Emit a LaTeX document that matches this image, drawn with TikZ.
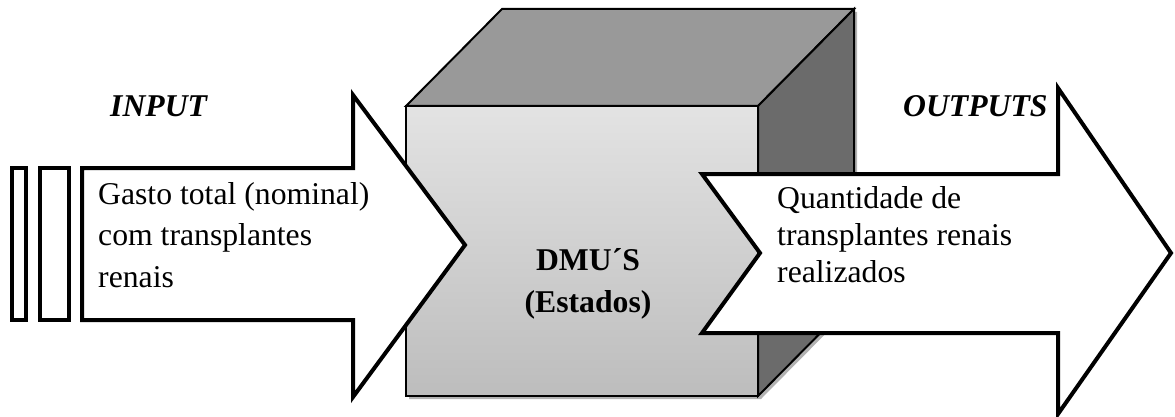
\documentclass[tikz,border=0pt]{standalone}
\usepackage{fontspec}
\setmainfont{Liberation Serif}
\usetikzlibrary{calc}

\tikzset{
	bigarrow/.style={draw=black, line width=4pt, fill=white, line join=miter},
	cubeface/.style={draw=black, line width=2pt, line join=miter},
	boxtext/.style={inner sep=0pt, align=left, anchor=base west},
}

\begin{document}
\begin{tikzpicture}[x=1pt, y=-1pt]
			%%%%% START %%%%%
			\useasboundingbox (0, 0) rectangle (1175, 417);
			
			% cube (shadow first)
			\fill[black!30] (409, 109) -- (505, 12) -- (857, 12) -- (857, 302) -- (761, 399) -- (409, 399) -- cycle;
			\draw[cubeface, fill=black!40] (406, 106) -- (502, 9) -- (854, 9) -- (758, 106) -- cycle;
			\draw[cubeface, fill=black!58] (758, 106) -- (854, 9) -- (854, 299) -- (758, 396) -- cycle;
			\draw[cubeface, top color=black!11, bottom color=black!26] (406, 106) rectangle (758, 396);
			
			% input side
			\draw[bigarrow] (12, 168) rectangle (26, 320);
			\draw[bigarrow] (40, 168) rectangle (69, 320);
			\draw[bigarrow] (82, 168) -- (353, 168) -- (353, 95) -- (465, 245) -- (353, 397) -- (353, 320) -- (82, 320) -- cycle;
			
			% output side
			\draw[bigarrow] (702, 174) -- (1058, 174) -- (1058, 88) -- (1171, 253) -- (1058, 414) -- (1058, 333) -- (702, 333) -- (760, 253) -- cycle;
			
			\node[font=\fontsize{31.7}{38}\selectfont\bfseries\itshape, inner sep=0pt, anchor=base west] (input) at (110, 117) {INPUT};
			\node[font=\fontsize{31.7}{38}\selectfont\bfseries\itshape, inner sep=0pt, anchor=base west] (outputs) at (903, 117) {OUTPUTS};
			
			% base anchor sits on the last line
			\node[boxtext, font=\fontsize{31.7}{41.5}\selectfont] (gasto) at (98, 287) {Gasto total (nominal)\\com transplantes\\renais};
			\node[boxtext, font=\fontsize{31.7}{37}\selectfont] (quantidade) at (777, 282) {Quantidade de\\transplantes renais\\realizados};
			
			\node[inner sep=0pt, align=center, anchor=base, font=\fontsize{31.7}{42}\selectfont\bfseries] (dmus) at (588, 312) {DMU´S\\(Estados)};
			%%%%% END %%%%%
		\end{tikzpicture}
\end{document}
